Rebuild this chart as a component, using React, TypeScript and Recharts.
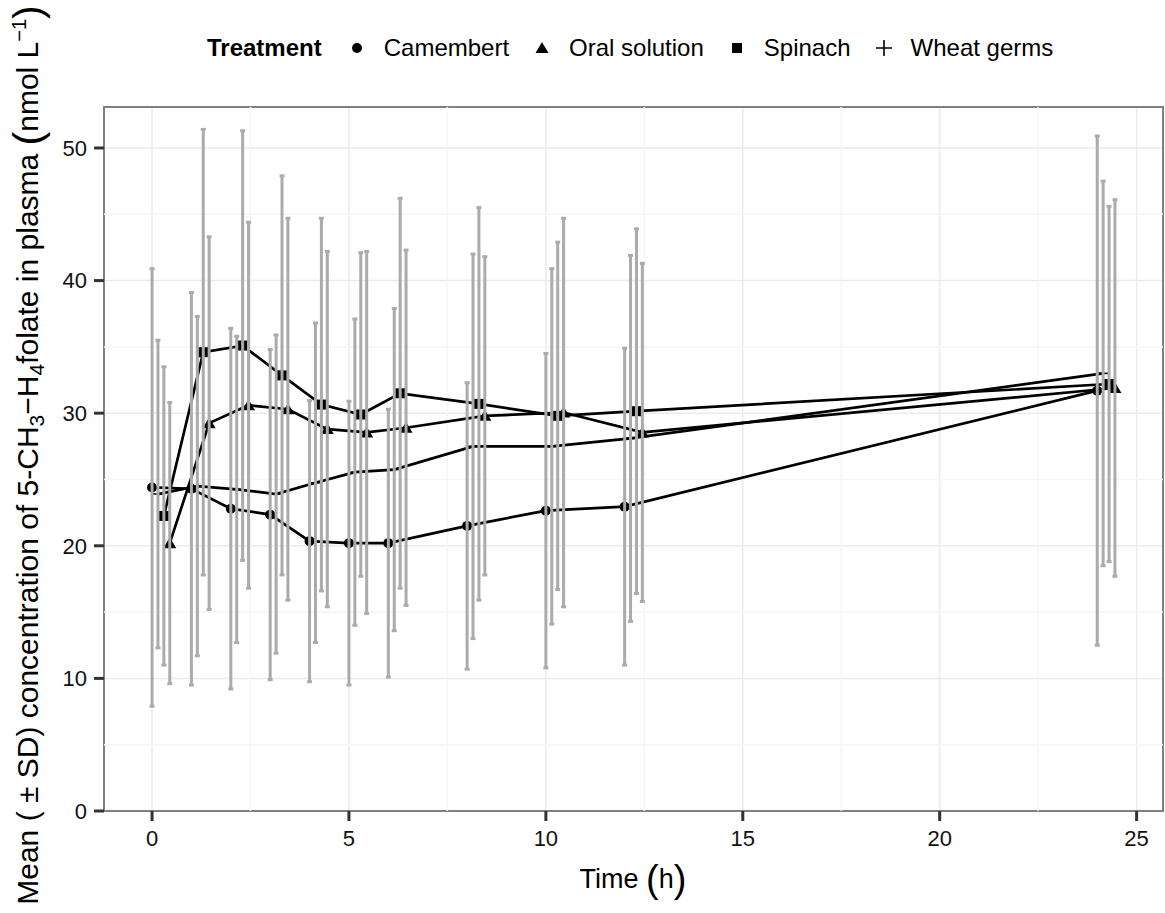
import React from 'react';
import {
  ComposedChart,
  Scatter,
  ErrorBar,
  XAxis,
  YAxis,
  CartesianGrid,
  ReferenceLine,
  ReferenceArea,
} from 'recharts';

// sampling times (h)
const times = [0, 1, 2, 3, 4, 5, 6, 8, 10, 12, 24];

// mean and SD per treatment, nmol/L
const camembertMean = [24.4, 24.3, 22.8, 22.35, 20.35, 20.2, 20.2, 21.5, 22.65, 22.95, 31.7];
const camembertSd = [16.5, 14.8, 13.6, 12.45, 10.6, 10.7, 10.1, 10.8, 11.85, 11.95, 19.2];

const oralMean = [20.2, 29.25, 30.6, 30.3, 28.8, 28.55, 28.9, 29.8, 30.05, 28.55, 31.9];
const oralSd = [10.6, 14.05, 13.8, 14.4, 13.4, 13.65, 13.4, 12.0, 14.65, 12.75, 14.2];

const spinachMean = [22.25, 34.6, 35.1, 32.85, 30.65, 29.9, 31.5, 30.7, 29.8, 30.15, 32.2];
const spinachSd = [11.25, 16.8, 16.2, 15.05, 14.05, 12.2, 14.7, 14.8, 13.1, 13.75, 13.4];

const wheatMean = [23.9, 24.5, 24.25, 23.9, 24.75, 25.55, 25.75, 27.5, 27.5, 28.1, 33.0];
const wheatSd = [11.6, 12.8, 11.55, 12.0, 12.05, 11.55, 12.15, 14.5, 13.4, 13.8, 14.5];

const xTicks = [0, 5, 10, 15, 20, 25];
const yTicks = [0, 10, 20, 30, 40, 50];
const xMinor = [2.5, 7.5, 12.5, 17.5, 22.5];
const yMinor = [5, 15, 25, 35, 45];

const X_DOMAIN: [number, number] = [-1.22, 25.67];
const Y_DOMAIN: [number, number] = [0, 53.09];

const FONT = '"Liberation Sans", Arial, Helvetica, sans-serif';
const ERR_GREY = '#ababab';

// dodge offsets so the bars don't sit on top of each other
const DODGE = { camembert: 0, wheat: 0.15, spinach: 0.3, oral: 0.45 };

const build = (mean: number[], sd: number[], offset: number) =>
  times.map((t, i) => ({ x: t + offset, y: mean[i], sd: sd[i] }));

const camembertData = build(camembertMean, camembertSd, DODGE.camembert);
const wheatData = build(wheatMean, wheatSd, DODGE.wheat);
const spinachData = build(spinachMean, spinachSd, DODGE.spinach);
const oralData = build(oralMean, oralSd, DODGE.oral);

const CircleShape = (p: any) => <circle cx={p.cx} cy={p.cy} r={5} fill="#000" />;
const TriangleShape = (p: any) => (
  <polygon
    points={`${p.cx - 6.5},${p.cy + 5} ${p.cx + 6.5},${p.cy + 5} ${p.cx},${p.cy - 6}`}
    fill="#000"
  />
);
const SquareShape = (p: any) => (
  <rect x={p.cx - 5} y={p.cy - 5} width={10} height={10} fill="#000" />
);
const PlusShape = (p: any) => (
  <path
    d={`M${p.cx - 6},${p.cy} H${p.cx + 6} M${p.cx},${p.cy - 6} V${p.cy + 6}`}
    stroke="#000"
    strokeWidth={1.6}
  />
);
const NoShape = () => <g />;

const lineStyle = { stroke: '#000', strokeWidth: 2.7 };

const series = [
  { name: 'Camembert', data: camembertData, shape: CircleShape },
  { name: 'Wheat germs', data: wheatData, shape: PlusShape },
  { name: 'Spinach', data: spinachData, shape: SquareShape },
  { name: 'Oral solution', data: oralData, shape: TriangleShape },
];

const legendItems = [
  { name: 'Camembert', icon: <circle cx={11} cy={11} r={5} fill="#000" /> },
  { name: 'Oral solution', icon: <polygon points="4.5,16 17.5,16 11,5" fill="#000" /> },
  { name: 'Spinach', icon: <rect x={6} y={6} width={10} height={10} fill="#000" /> },
  { name: 'Wheat germs', icon: <path d="M3,11 H19 M11,3 V19" stroke="#000" strokeWidth={1.6} /> },
];

const YTitle = () => (
  <text
    transform="translate(38, 455) rotate(-90)"
    textAnchor="middle"
    fontSize={30}
    fontFamily={FONT}
    fill="#000"
  >
    <tspan>Mean ( ± SD) concentration of 5-CH</tspan>
    <tspan fontSize={21} dy={6}>3</tspan>
    <tspan dy={-6}>−H</tspan>
    <tspan fontSize={21} dy={6}>4</tspan>
    <tspan dy={-6}>folate in plasma </tspan>
    <tspan fontSize={41} dy={4}>(</tspan>
    <tspan dy={-4}>nmol L</tspan>
    <tspan fontSize={20} dy={-12}>−1</tspan>
    <tspan fontSize={41} dy={16}>)</tspan>
  </text>
);

const XTitle = () => (
  <text x={633} y={888} textAnchor="middle" fontSize={27} fontFamily={FONT} fill="#000">
    <tspan>Time </tspan>
    <tspan fontSize={38} dy={4}>(</tspan>
    <tspan dy={-4}>h</tspan>
    <tspan fontSize={38} dy={4}>)</tspan>
  </text>
);

const Legend = () => (
  <div
    style={{
      position: 'absolute',
      top: 31,
      left: 207,
      display: 'flex',
      alignItems: 'center',
      fontFamily: FONT,
      fontSize: 24,
      color: '#000',
      height: 34,
      whiteSpace: 'nowrap',
    }}
  >
    <span style={{ fontWeight: 'bold', marginRight: 24 }}>Treatment</span>
    {legendItems.map((it) => (
      <span key={it.name} style={{ display: 'flex', alignItems: 'center', marginRight: 22 }}>
        <svg width={22} height={22} style={{ marginRight: 16 }}>
          {it.icon}
        </svg>
        <span>{it.name}</span>
      </span>
    ))}
  </div>
);

export default function App() {
  return (
    <div style={{ position: 'absolute', left: 0, top: 0, width: 1165, height: 913, background: '#fff' }}>
      <Legend />
      <ComposedChart
        width={1165}
        height={913}
        margin={{ top: 107, right: 2, bottom: 42, left: 44 }}
      >
        <CartesianGrid stroke="#ebebeb" strokeWidth={1.5} />
        {xMinor.map((v) => (
          <ReferenceLine key={`vx${v}`} x={v} stroke="#f6f6f6" strokeWidth={1.5} />
        ))}
        {yMinor.map((v) => (
          <ReferenceLine key={`hy${v}`} y={v} stroke="#f6f6f6" strokeWidth={1.5} />
        ))}
        <XAxis
          type="number"
          dataKey="x"
          domain={X_DOMAIN}
          allowDataOverflow
          ticks={xTicks}
          interval={0}
          height={60}
          axisLine={false}
          tickSize={10}
          tickMargin={9}
          tickLine={{ stroke: '#333', strokeWidth: 3 }}
          tick={{ fontSize: 22, fill: '#111', fontFamily: FONT }}
          label={XTitle}
        />
        <YAxis
          type="number"
          dataKey="y"
          domain={Y_DOMAIN}
          allowDataOverflow
          ticks={yTicks}
          interval={0}
          width={60}
          axisLine={false}
          tickSize={10}
          tickMargin={7}
          tickLine={{ stroke: '#333', strokeWidth: 3 }}
          tick={{ fontSize: 22, fill: '#111', fontFamily: FONT }}
          label={YTitle}
        />
        {series.map((s) => (
          <Scatter
            key={s.name}
            name={s.name}
            data={s.data}
            shape={s.shape}
            line={lineStyle}
            lineJointType="linear"
            legendType="none"
            isAnimationActive={false}
          />
        ))}
        {series.map((s) => (
          <Scatter
            key={`${s.name}-err`}
            name={`${s.name} SD`}
            data={s.data}
            shape={NoShape}
            legendType="none"
            isAnimationActive={false}
          >
            <ErrorBar
              dataKey="sd"
              direction="y"
              width={2.5}
              stroke={ERR_GREY}
              strokeWidth={3}
              zIndex={700}
              isAnimationActive={false}
            />
          </Scatter>
        ))}
        <ReferenceArea
          x1={X_DOMAIN[0]}
          x2={X_DOMAIN[1]}
          y1={Y_DOMAIN[0]}
          y2={Y_DOMAIN[1]}
          fill="none"
          fillOpacity={0}
          stroke="#808080"
          strokeWidth={2}
          ifOverflow="visible"
        />
      </ComposedChart>
    </div>
  );
}
